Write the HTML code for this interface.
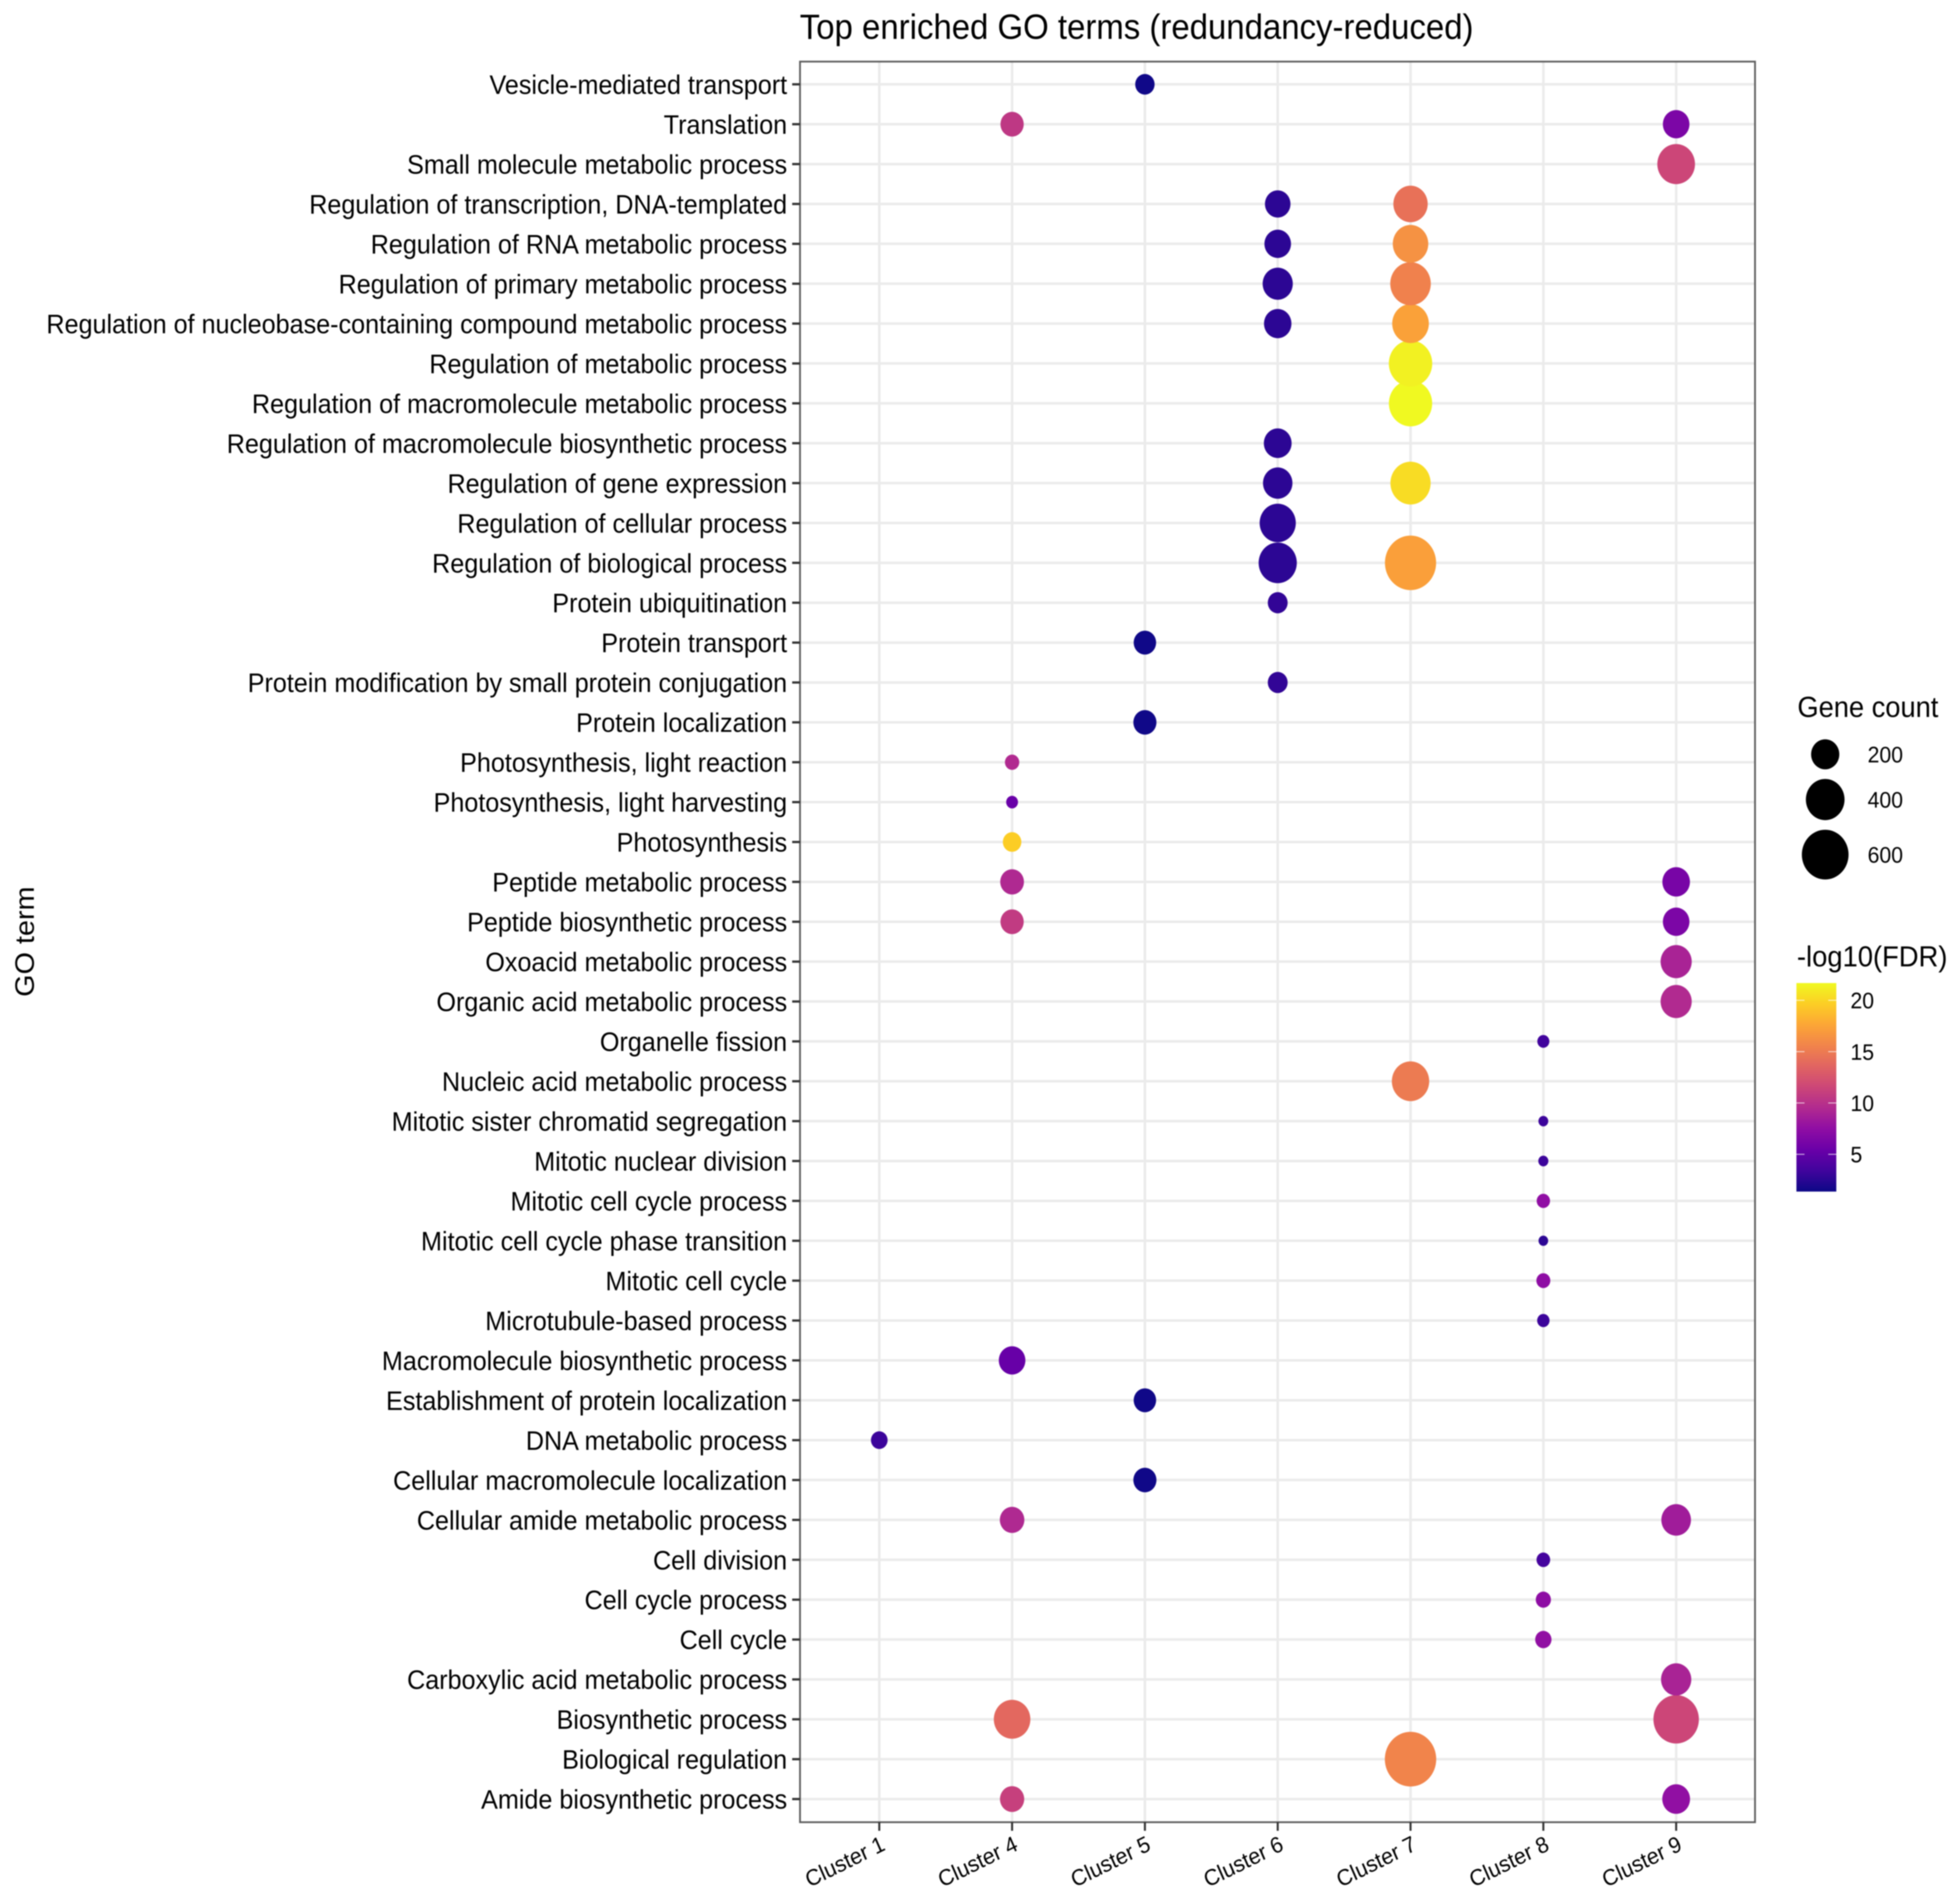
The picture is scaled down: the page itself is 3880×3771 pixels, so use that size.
<!DOCTYPE html>
<html lang="en">
<head>
<meta charset="utf-8">
<title>Top enriched GO terms (redundancy-reduced)</title>
<style>
  html, body { margin: 0; padding: 0; background: #ffffff; }
  svg { display: block; filter: blur(1px); }
  text { font-family: "Liberation Sans", Arial, sans-serif; fill: #000000; }
</style>
</head>
<body>
<svg id="chart" xmlns="http://www.w3.org/2000/svg" width="3880" height="3771" viewBox="0 0 3880 3771">
  <rect x="0" y="0" width="3880" height="3771" fill="#ffffff"/>
  <defs>
    <linearGradient id="plasma-gradient" x1="0" y1="1" x2="0" y2="0"></linearGradient>
  </defs>
  <g id="grid"></g>
  <g id="points"></g>
  <rect x="1584.5" y="122" width="1891.5" height="3487" fill="none" stroke="#5c5c5c" stroke-width="3.5"/>
  <g id="y-axis"></g>
  <g id="x-axis"></g>
  <text transform="translate(1584,77) scale(1,1.065)" font-size="65.25">Top enriched GO terms (redundancy-reduced)</text>
  <text transform="translate(67,1865) rotate(-90) scale(1.075,1)" font-size="53" text-anchor="middle">GO term</text>
  <g id="size-legend">
    <text transform="translate(3560,1420) scale(1,1.065)" font-size="54">Gene count</text>
  </g>
  <g id="color-legend">
    <text transform="translate(3559,1914) scale(1,1.065)" font-size="54.2">-log10(FDR)</text>
  </g>
</svg>
<script>
// ---- chart data ----
const goTerms = [
  "Vesicle-mediated transport","Translation","Small molecule metabolic process",
  "Regulation of transcription, DNA-templated","Regulation of RNA metabolic process",
  "Regulation of primary metabolic process","Regulation of nucleobase-containing compound metabolic process",
  "Regulation of metabolic process","Regulation of macromolecule metabolic process",
  "Regulation of macromolecule biosynthetic process","Regulation of gene expression",
  "Regulation of cellular process","Regulation of biological process","Protein ubiquitination",
  "Protein transport","Protein modification by small protein conjugation","Protein localization",
  "Photosynthesis, light reaction","Photosynthesis, light harvesting","Photosynthesis",
  "Peptide metabolic process","Peptide biosynthetic process","Oxoacid metabolic process",
  "Organic acid metabolic process","Organelle fission","Nucleic acid metabolic process",
  "Mitotic sister chromatid segregation","Mitotic nuclear division","Mitotic cell cycle process",
  "Mitotic cell cycle phase transition","Mitotic cell cycle","Microtubule-based process",
  "Macromolecule biosynthetic process","Establishment of protein localization","DNA metabolic process",
  "Cellular macromolecule localization","Cellular amide metabolic process","Cell division",
  "Cell cycle process","Cell cycle","Carboxylic acid metabolic process","Biosynthetic process",
  "Biological regulation","Amide biosynthetic process"
];
const clusters = ["Cluster 1","Cluster 4","Cluster 5","Cluster 6","Cluster 7","Cluster 8","Cluster 9"];

// One entry per dot: term number (1 = top row), cluster name, gene count, -log10(FDR)
const pointTerm = [
  35,
  2,18,19,20,21,22,33,37,42,44,
  1,15,17,34,36,
  4,5,6,7,10,11,12,13,14,16,
  4,5,6,7,8,9,11,13,26,43,
  25,27,28,29,30,31,32,38,39,40,
  2,3,21,22,23,24,37,41,42,44
];
const pointCluster = [
  "Cluster 1",
  "Cluster 4","Cluster 4","Cluster 4","Cluster 4","Cluster 4","Cluster 4","Cluster 4","Cluster 4","Cluster 4","Cluster 4",
  "Cluster 5","Cluster 5","Cluster 5","Cluster 5","Cluster 5",
  "Cluster 6","Cluster 6","Cluster 6","Cluster 6","Cluster 6","Cluster 6","Cluster 6","Cluster 6","Cluster 6","Cluster 6",
  "Cluster 7","Cluster 7","Cluster 7","Cluster 7","Cluster 7","Cluster 7","Cluster 7","Cluster 7","Cluster 7","Cluster 7",
  "Cluster 8","Cluster 8","Cluster 8","Cluster 8","Cluster 8","Cluster 8","Cluster 8","Cluster 8","Cluster 8","Cluster 8",
  "Cluster 9","Cluster 9","Cluster 9","Cluster 9","Cluster 9","Cluster 9","Cluster 9","Cluster 9","Cluster 9","Cluster 9"
];
const geneCount = [
  59,
  129,41,25,76,135,129,175,146,354,142,
  85,119,127,119,127,
  160,175,232,188,193,220,346,389,90,90,
  309,332,443,356,513,510,435,729,371,735,
  26,15,16,34,14,38,28,36,47,56,
  175,378,190,175,249,249,223,234,566,193
];
const negLogFdr = [
  3.2,
  10.5,9.5,5.4,19.6,9.4,10.7,5.3,9.4,13.8,11.1,
  1.5,1.5,1.5,1.5,1.5,
  2.6,2.6,2.6,2.6,2.6,2.6,2.6,2.6,2.8,2.8,
  14.4,16.4,15.4,17.3,21.3,21.68,20.3,17.2,15.0,15.6,
  3.4,3.2,3.2,7.5,2.6,7.4,3.2,3.6,7.4,7.6,
  6.4,11.5,6.2,6.4,9.0,9.5,8.5,9.0,11.5,7.6
];
const sizeLegendCounts = [200,400,600];
const colorTicks = [20,15,10,5];
const colorDomain = [1.37,21.68];
const plasmaStops = ["#0D0887","#41049D","#6A00A8","#8F0DA4","#B12A90","#CC4678","#E16462","#F1844B","#FCA636","#FCCE25","#F0F921"];

// ---- axis functions ----
const SVG_NS = "http://www.w3.org/2000/svg";
const panel = { left: 1584.5, right: 3476, top: 122, bottom: 3609 };
const ASPECT = 1.065;
function xScale(clusterName) { return 1741.5 + 263.05 * clusters.indexOf(clusterName); }
function yScale(termNumber) { return 167 + 78.98 * (termNumber - 1); }
function rScale(count) { return 2.9 + 1.77 * Math.sqrt(count); }
function hex(c) { return [parseInt(c.slice(1,3),16), parseInt(c.slice(3,5),16), parseInt(c.slice(5,7),16)]; }
function colorScale(v) {
  const t = Math.max(0, Math.min(1, (v - colorDomain[0]) / (colorDomain[1] - colorDomain[0])));
  const p = t * (plasmaStops.length - 1);
  const i = Math.min(Math.floor(p), plasmaStops.length - 2);
  const a = hex(plasmaStops[i]), b = hex(plasmaStops[i + 1]), f = p - i;
  return "rgb(" + a.map((x, k) => Math.round(x + (b[k] - x) * f)).join(",") + ")";
}
function make(tag, parent, attrs) {
  const el = document.createElementNS(SVG_NS, tag);
  for (const k in attrs) el.setAttribute(k, attrs[k]);
  parent.appendChild(el);
  return el;
}
function slug(s) { return s.toLowerCase().replace(/[^a-z0-9]+/g, "-").replace(/^-|-$/g, ""); }

const grid = document.getElementById("grid");
const yAxis = document.getElementById("y-axis");
const xAxis = document.getElementById("x-axis");
const pointsG = document.getElementById("points");
const sizeLegend = document.getElementById("size-legend");
const colorLegend = document.getElementById("color-legend");

// horizontal grid, y ticks, y labels
goTerms.forEach((term, i) => {
  const y = yScale(i + 1);
  const line = make("line", grid, { x1: panel.left, x2: panel.right, y1: y, y2: y, stroke: "#ebebeb", "stroke-width": 5 });
  
  
  const tick = make("line", yAxis, { x1: 1569, x2: panel.left, y1: y, y2: y, stroke: "#333333", "stroke-width": 4.5 });
  
  
  const label = make("text", yAxis, { transform: "translate(1559," + (y + 19) + ") scale(1,1.065)", "font-size": 49.8, "text-anchor": "end" });
  
  
  label.textContent = term;
});

// vertical grid, x ticks, x labels
clusters.forEach((name) => {
  const x = xScale(name);
  const line = make("line", grid, { x1: x, x2: x, y1: panel.top, y2: panel.bottom, stroke: "#ebebeb", "stroke-width": 5 });
  
  
  const tick = make("line", xAxis, { x1: x, x2: x, y1: panel.bottom, y2: 3626, stroke: "#333333", "stroke-width": 4 });
  
  
  const label = make("text", xAxis, { transform: "translate(" + (x + 14) + ",3663) scale(1,1.065) rotate(-25)", "font-size": 42, "text-anchor": "end" });
  
  
  label.textContent = name;
});

// dots: lower rows first so upper rows sit on top
pointTerm.map((_, i) => i).sort((a, b) => pointTerm[b] - pointTerm[a]).forEach((i) => {
  const r = rScale(geneCount[i]);
  const dot = make("ellipse", pointsG, { cx: xScale(pointCluster[i]), cy: yScale(pointTerm[i]), rx: r, ry: r * ASPECT, fill: colorScale(negLogFdr[i]) });
  
  
});

// size legend
let legendY = 1494;
sizeLegendCounts.forEach((count, i) => {
  const r = rScale(count);
  if (i > 0) legendY += r * ASPECT + rScale(sizeLegendCounts[i - 1]) * ASPECT + 19;
  const key = make("ellipse", sizeLegend, { cx: 3615, cy: legendY, rx: r, ry: r * ASPECT, fill: "#000000" });
  
  
  const label = make("text", sizeLegend, { transform: "translate(3699," + (legendY + 16) + ") scale(1,1.065)", "font-size": 42 });
  
  
  label.textContent = String(count);
});

// colour legend
const bar = { x: 3558, width: 79, top: 1947, bottom: 2360 };
function barY(v) { return bar.bottom - (v - colorDomain[0]) / (colorDomain[1] - colorDomain[0]) * (bar.bottom - bar.top); }
const gradient = document.getElementById("plasma-gradient");
plasmaStops.forEach((c, i) => {
  make("stop", gradient, { offset: (i / (plasmaStops.length - 1)), "stop-color": c });
});
const barRect = make("rect", colorLegend, { x: bar.x, y: bar.top, width: bar.width, height: bar.bottom - bar.top, fill: "url(#plasma-gradient)" });


colorTicks.forEach((v) => {
  const y = barY(v);
  const t1 = make("line", colorLegend, { x1: bar.x, x2: bar.x + 16, y1: y, y2: y, stroke: "#ffffff", "stroke-opacity": 0.75, "stroke-width": 1.8 });
  
  
  const t2 = make("line", colorLegend, { x1: bar.x + bar.width - 16, x2: bar.x + bar.width, y1: y, y2: y, stroke: "#ffffff", "stroke-opacity": 0.75, "stroke-width": 1.8 });
  
  
  const label = make("text", colorLegend, { transform: "translate(3665," + (y + 16) + ") scale(1,1.065)", "font-size": 42 });
  
  
  label.textContent = String(v);
});
</script>
</body>
</html>
